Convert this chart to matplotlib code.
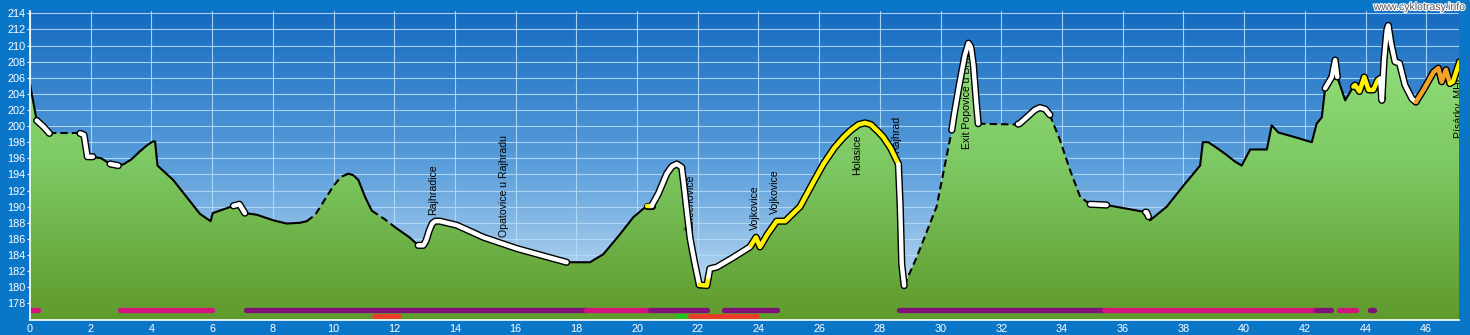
import numpy as np
import matplotlib
matplotlib.use("Agg")
import matplotlib.pyplot as plt
from matplotlib.colors import LinearSegmentedColormap
from matplotlib.patches import Polygon
import matplotlib.patheffects as pe

plt.rcParams['font.family'] = ['Liberation Sans', 'DejaVu Sans']

# --- elevation profile (km, m a.s.l.) ---
km = [0.00, 0.22, 0.45, 0.64, 1.65, 1.78, 1.89, 2.07, 2.35, 2.64, 2.91, 3.10, 3.35,
      3.60, 3.85, 4.05, 4.12, 4.20, 4.72, 5.16, 5.60, 5.95, 6.02, 6.40, 6.70, 6.90,
      7.08, 7.47, 8.02, 8.46, 8.90, 9.12, 9.40, 9.70, 10.00, 10.25, 10.49, 10.65,
      10.82, 11.04, 11.26, 11.70, 12.08, 12.50, 12.79, 12.96, 13.05, 13.15, 13.25,
      13.35, 13.50, 14.06, 14.94, 16.04, 17.00, 17.68, 18.45, 18.89, 19.40, 19.88,
      20.32, 20.48, 20.70, 20.98, 21.15, 21.31, 21.47, 21.55, 21.64, 21.75, 21.90,
      22.05, 22.30, 22.40, 22.63, 23.17, 23.72, 23.92, 24.05, 24.30, 24.60, 24.88,
      25.37, 25.80, 26.14, 26.50, 26.80, 27.05, 27.30, 27.51, 27.70, 27.95, 28.12,
      28.35, 28.61, 28.67, 28.72, 28.80, 29.21, 29.87, 30.37, 30.45, 30.62, 30.80,
      30.92, 31.00, 31.08, 31.18, 31.24, 32.50, 32.60, 32.90, 33.10, 33.27, 33.45,
      33.60, 33.94, 34.27, 34.60, 34.93, 35.47, 36.79, 36.90, 37.45, 38.00, 38.55,
      38.64, 38.82, 39.10, 39.43, 39.70, 39.92, 40.20, 40.75, 40.91, 41.13, 41.70,
      42.23, 42.39, 42.56, 42.67, 42.89, 43.00, 43.07, 43.33, 43.60, 43.66, 43.80,
      43.96, 44.10, 44.26, 44.40, 44.48, 44.54, 44.61, 44.70, 44.75, 44.84, 44.97,
      45.12, 45.30, 45.53, 45.66, 45.91, 46.24, 46.40, 46.51, 46.65, 46.78, 46.88,
      47.10]
elev = [205.2, 200.7, 199.9, 199.1, 199.1, 198.9, 196.2, 196.2, 196.0, 195.3, 195.1,
        195.3, 195.9, 196.8, 197.6, 198.1, 198.1, 195.1, 193.3, 191.2, 189.1, 188.2,
        189.2, 189.7, 190.1, 190.3, 189.2, 189.0, 188.3, 187.9, 188.0, 188.2, 189.0,
        190.8, 192.6, 193.7, 194.1, 193.9, 193.3, 191.2, 189.5, 188.4, 187.3, 186.2,
        185.2, 185.2, 185.8, 187.0, 187.9, 188.2, 188.2, 187.7, 186.2, 184.8, 183.8,
        183.1, 183.1, 184.1, 186.4, 188.7, 190.1, 190.1, 191.6, 194.1, 195.0, 195.3,
        194.9, 192.5, 189.5, 186.0, 183.0, 180.3, 180.2, 182.3, 182.5, 183.7, 185.0,
        186.2, 185.0, 186.6, 188.2, 188.2, 190.0, 193.0, 195.3, 197.3, 198.6, 199.5,
        200.2, 200.4, 200.2, 199.3, 198.6, 197.3, 195.3, 190.0, 182.9, 180.2, 183.7,
        190.0, 199.5, 201.5, 205.2, 208.8, 210.3, 209.8, 207.6, 202.8, 200.3, 200.2,
        200.3, 201.3, 202.0, 202.3, 202.1, 201.4, 198.2, 194.5, 191.2, 190.3, 190.2,
        189.3, 188.3, 190.0, 192.6, 195.1, 198.0, 198.0, 197.3, 196.4, 195.6, 195.1,
        197.1, 197.1, 200.1, 199.2, 198.6, 198.0, 200.3, 201.1, 204.7, 206.1, 208.2,
        206.1, 203.2, 204.9, 205.1, 204.3, 206.1, 204.5, 204.5, 205.7, 205.9, 203.2,
        208.2, 211.9, 212.5, 210.3, 208.0, 207.8, 205.1, 203.4, 203.0, 204.5, 206.7,
        207.2, 205.5, 207.0, 205.3, 205.5, 208.0]

# --- line style of each stretch (surface type) ---
seg_start = [0.00, 0.22, 0.64, 1.65, 2.07, 2.64, 2.91, 6.70, 7.08, 9.12, 10.45, 11.26,
             12.08, 12.79, 17.68, 20.32, 20.48, 22.05, 22.35, 23.75, 28.61, 28.80,
             30.37, 31.24, 32.55, 33.60, 34.93, 35.47, 36.75, 36.85, 42.67, 43.07,
             43.60, 44.48, 45.66, 46.78]
seg_end = seg_start[1:] + [47.10]
seg_style = ['solid', 'white', 'dashed', 'white', 'solid', 'white', 'solid', 'white',
             'solid', 'dashed', 'solid', 'dashed', 'solid', 'white', 'solid', 'yellow',
             'white', 'yellow', 'white', 'yellow', 'white', 'dashed', 'white', 'dashed',
             'white', 'dashed', 'white', 'solid', 'white', 'solid', 'white', 'solid',
             'yellow', 'white', 'orange', 'yellow']

# --- place names ---
place_names = ["Rajhradice", "Opatovice u Rajhradu", "Želechovice", "Vojkovice",
               "Vojkovice", "Holasice", "Rajhrad", "Exit Popovice u Brna", "Písárky, MHD"]
place_km = [13.27, 15.60, 21.75, 23.89, 24.55, 27.26, 28.53, 30.88, 47.08]
place_base = [189.0, 186.2, 187.0, 187.1, 189.1, 193.9, 196.6, 197.2, 198.5]

# --- route category bars ---
bar1_start = [0.00, 2.95, 7.10, 18.33, 20.42, 22.85, 28.62, 35.37, 42.38, 43.14, 44.16]
bar1_end = [0.28, 5.98, 18.33, 20.42, 22.32, 24.60, 35.37, 42.38, 42.86, 43.68, 44.29]
bar1_kind = ['m', 'm', 'p', 'm', 'p', 'p', 'p', 'm', 'p', 'm', 'p']
bar2_start = [11.33, 21.33, 21.75]
bar2_end = [12.17, 21.57, 23.94]
bar2_kind = ['r', 'g', 'r']

x_ticks = list(range(0, 47, 2))
y_ticks = list(range(178, 215, 2))

XMIN, XMAX = 0.0, 47.08
YMIN, YMAX = 175.93, 214.29

bar_colors = {'m': '#d2147c', 'p': '#82107a', 'r': '#f03a28', 'g': '#22c41e'}
outer_blue = '#0a76c8'

fig = plt.figure(figsize=(14.7, 3.35), dpi=100, facecolor=outer_blue)
ax = fig.add_axes([30 / 1470, 15 / 335, 1429 / 1470, 309 / 335])
ax.set_xlim(XMIN, XMAX)
ax.set_ylim(YMIN, YMAX)
ax.set_facecolor(outer_blue)

# sky gradient
sky_cmap = LinearSegmentedColormap.from_list('sky', ['#156bc0', '#5a9edb', '#d4e8f7'])
grad = np.linspace(0, 1, 256).reshape(-1, 1)
ax.imshow(grad, aspect='auto', extent=[XMIN, XMAX, YMIN, YMAX], origin='upper',
          cmap=sky_cmap, zorder=0, interpolation='bicubic')

# grid
ax.set_xticks(x_ticks)
ax.set_yticks(y_ticks)
ax.grid(True, color='#b4dcfa', lw=0.8, alpha=0.9)
ax.set_axisbelow(True)
for gl in ax.get_xgridlines() + ax.get_ygridlines():
    gl.set_zorder(0.5)

# terrain fill with vertical gradient
kmx = np.array(km)
ev = np.array(elev)
poly_xy = np.column_stack([np.r_[kmx[0], kmx, kmx[-1]], np.r_[YMIN, ev, YMIN]])
terrain = Polygon(poly_xy, closed=True, facecolor='none', edgecolor='none')
ax.add_patch(terrain)
green_cmap = LinearSegmentedColormap.from_list('green', ['#98e686', '#7cc862', '#5f9a2c'])
gim = ax.imshow(grad, aspect='auto', extent=[XMIN, XMAX, YMIN, YMAX], origin='upper',
                cmap=green_cmap, zorder=1, interpolation='bicubic')
gim.set_clip_path(terrain)

# place names (drawn beneath the profile line)
for name, x, yb in zip(place_names, place_km, place_base):
    ax.text(x, yb, name, rotation=90, ha='center', va='bottom', fontsize=7.6,
            color='black', zorder=2, clip_on=True)


def stretch(a, b):
    xs = [a] + [k for k in km if a < k < b] + [b]
    return xs, np.interp(xs, km, elev)


fill_col = {'white': 'white', 'yellow': '#fff200', 'orange': '#f2a42a'}
for a, b, s in zip(seg_start, seg_end, seg_style):
    xs, ys = stretch(a, b)
    if s == 'solid':
        ax.plot(xs, ys, color='black', lw=1.5, zorder=3, solid_capstyle='round',
                solid_joinstyle='round')
    elif s == 'dashed':
        ax.plot(xs, ys, color='black', lw=1.5, zorder=3, ls=(0, (3.5, 2)))
    else:
        ax.plot(xs, ys, color='black', lw=5.2, zorder=4, solid_capstyle='round',
                solid_joinstyle='round')
        ax.plot(xs, ys, color=fill_col[s], lw=3.2, zorder=5, solid_capstyle='round',
                solid_joinstyle='round')

# route category bars
for a, b, k in zip(bar1_start, bar1_end, bar1_kind):
    ax.plot([a, b], [177.15, 177.15], color=bar_colors[k], lw=3.8,
            solid_capstyle='round', zorder=6)
for a, b, k in zip(bar2_start, bar2_end, bar2_kind):
    ax.plot([a, b], [176.4, 176.4], color=bar_colors[k], lw=3.4,
            solid_capstyle='round', zorder=6)

# axes styling
for side in ('top', 'right'):
    ax.spines[side].set_visible(False)
for side in ('left', 'bottom'):
    ax.spines[side].set_color('white')
    ax.spines[side].set_linewidth(1.2)
    ax.spines[side].set_zorder(7)
ax.tick_params(axis='y', colors='white', labelsize=7.8, length=2.5, width=0.8, pad=1)
ax.tick_params(axis='x', colors='white', labelsize=7.8, length=0, pad=3)

fig.text(1465 / 1470, 1 - 2 / 335, 'www.cyklotrasy.info', ha='right', va='top',
         fontsize=7.6, color='#555555',
         path_effects=[pe.withStroke(linewidth=1.6, foreground='white')])

fig.savefig('out.png', dpi=100, facecolor=outer_blue)
